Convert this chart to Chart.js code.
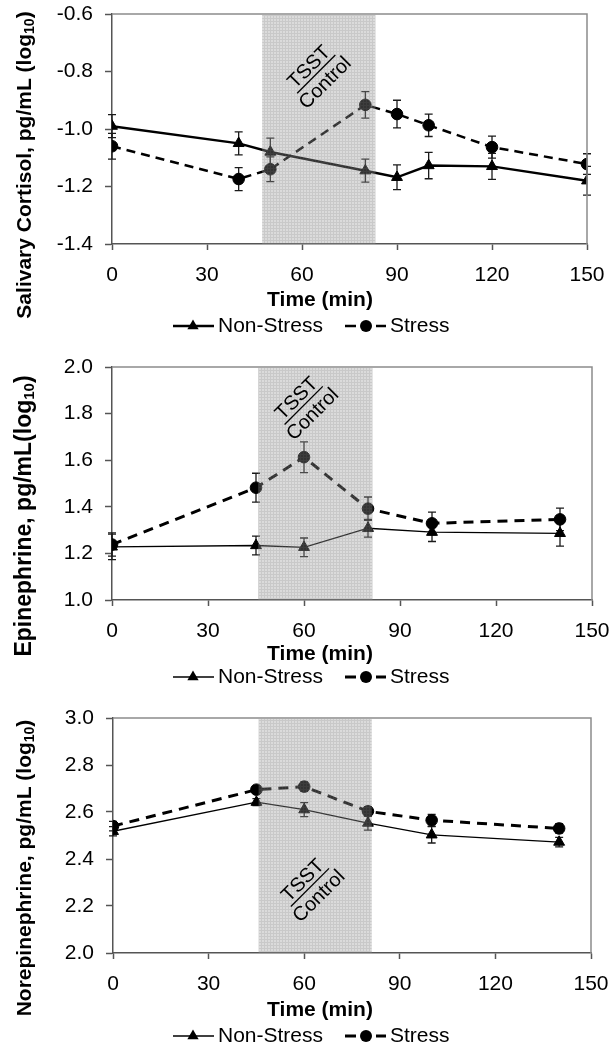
<!DOCTYPE html>
<html><head><meta charset="utf-8">
<script src="https://cdn.jsdelivr.net/npm/chart.js@4.4.0/dist/chart.umd.min.js"></script>
<style>
html,body{margin:0;padding:0;background:#fff;}
body{width:613px;height:1050px;position:relative;overflow:hidden;}
canvas{position:absolute;left:0;display:block;}
</style></head><body>
<canvas id="c1" width="613" height="340" style="top:0px"></canvas>
<canvas id="c2" width="613" height="350" style="top:340px"></canvas>
<canvas id="c3" width="613" height="360" style="top:690px"></canvas>
<script>
// ---------- DATA ----------
const seriesNames = ['Non-Stress', 'Stress'];
const xTickValues = [0, 30, 60, 90, 120, 150];

// Panel 1: salivary cortisol
const cortisolTimes = [0, 40, 50, 80, 90, 100, 120, 150];
const cortisolNonStress = [-0.99, -1.05, -1.08, -1.145, -1.168, -1.127, -1.13, -1.18];
const cortisolNonStressErr = [0.04, 0.04, 0.048, 0.04, 0.043, 0.046, 0.045, 0.05];
const cortisolStress = [-1.06, -1.174, -1.14, -0.916, -0.948, -0.987, -1.063, -1.122];
const cortisolStressErr = [0.045, 0.04, 0.043, 0.046, 0.048, 0.039, 0.038, 0.036];
const cortisolTicks = [-1.4, -1.2, -1.0, -0.8, -0.6];

// Panel 2: epinephrine
const epiTimes = [0, 45, 60, 80, 100, 140];
const epiNonStress = [1.228, 1.234, 1.226, 1.308, 1.291, 1.286];
const epiNonStressErr = [0.055, 0.04, 0.04, 0.038, 0.04, 0.055];
const epiStress = [1.238, 1.482, 1.613, 1.392, 1.329, 1.346];
const epiStressErr = [0.05, 0.062, 0.066, 0.05, 0.048, 0.048];
const epiTicks = [1.0, 1.2, 1.4, 1.6, 1.8, 2.0];

// Panel 3: norepinephrine
const neTimes = [0, 45, 60, 80, 100, 140];
const neNonStress = [2.518, 2.642, 2.61, 2.553, 2.503, 2.472];
const neNonStressErr = [0.02, 0.015, 0.03, 0.03, 0.035, 0.02];
const neStress = [2.54, 2.695, 2.708, 2.603, 2.565, 2.53];
const neStressErr = [0.02, 0.015, 0.02, 0.02, 0.025, 0.02];
const neTicks = [2.0, 2.2, 2.4, 2.6, 2.8, 3.0];

// TSST / Control period (min)
const cortisolBand = [47.4, 83.2];
const epiBand = [45.7, 81.4];
const neBand = [45.7, 81.2];

// ---------- DRAWING ----------
const FONT = "'Liberation Sans', Arial, Helvetica, sans-serif";
Chart.defaults.font.family = FONT;

function makePattern(ctx) {
  const c = document.createElement('canvas');
  c.width = 3; c.height = 3;
  const g = c.getContext('2d');
  g.fillStyle = 'rgba(150,150,150,0.34)';
  g.fillRect(0, 0, 3, 3);
  g.fillStyle = 'rgba(110,110,110,0.17)';
  g.fillRect(0, 0, 3, 1);
  g.fillRect(0, 1, 1, 2);
  return ctx.createPattern(c, 'repeat');
}

function tri(ctx, x, y, r) {
  ctx.beginPath();
  ctx.moveTo(x, y - r);
  ctx.lineTo(x + r * 0.866, y + r * 0.5);
  ctx.lineTo(x - r * 0.866, y + r * 0.5);
  ctx.closePath();
  ctx.fill();
}

const decor = {
  id: 'decor',
  beforeDatasetsDraw(chart) {
    const { ctx, scales: { x, y } } = chart;
    ctx.save();
    ctx.strokeStyle = '#1a1a1a';
    ctx.lineWidth = 1.3;
    ctx.setLineDash([]);
    chart.data.datasets.forEach(ds => {
      ds.data.forEach((p, j) => {
        const e = ds.errors[j];
        const px = x.getPixelForValue(p.x);
        const t = y.getPixelForValue(p.y + e);
        const b = y.getPixelForValue(p.y - e);
        ctx.beginPath();
        ctx.moveTo(px, t); ctx.lineTo(px, b);
        ctx.moveTo(px - 4, t); ctx.lineTo(px + 4, t);
        ctx.moveTo(px - 4, b); ctx.lineTo(px + 4, b);
        ctx.stroke();
      });
    });
    ctx.restore();
  },
  afterDatasetsDraw(chart) {
    const o = chart.options.plugins.decor;
    const { ctx, chartArea: a, scales: { x, y } } = chart;
    ctx.save();
    const xl = x.getPixelForValue(o.band[0]);
    const xr = x.getPixelForValue(o.band[1]);
    ctx.fillStyle = makePattern(ctx);
    ctx.fillRect(xl, a.top + 1, xr - xl, a.bottom - a.top - 1);
    // frame top/right
    ctx.strokeStyle = '#8c8c8c';
    ctx.lineWidth = 1.5;
    ctx.beginPath();
    ctx.moveTo(a.left, a.top); ctx.lineTo(a.right, a.top); ctx.lineTo(a.right, a.bottom);
    ctx.stroke();
    // TSST / Control annotation
    const nx = x.getPixelForValue(o.note[0]);
    const ny = y.getPixelForValue(o.note[1]);
    ctx.translate(nx, ny);
    ctx.rotate(-Math.PI / 4);
    ctx.fillStyle = '#000';
    ctx.strokeStyle = '#000';
    ctx.lineWidth = 1.3;
    ctx.font = '20px ' + FONT;
    ctx.textAlign = 'center';
    ctx.textBaseline = 'alphabetic';
    ctx.fillText('TSST', 0, -4);
    ctx.beginPath(); ctx.moveTo(-27, 0); ctx.lineTo(27, 0); ctx.stroke();
    ctx.textBaseline = 'top';
    ctx.fillText('Control', 0, 3);
    ctx.restore();
  },
  afterDraw(chart) {
    const o = chart.options.plugins.decor;
    const ctx = chart.ctx;
    ctx.save();
    ctx.fillStyle = '#000';
    // x title
    ctx.font = 'bold 21px ' + FONT;
    ctx.textAlign = 'center';
    ctx.textBaseline = 'middle';
    ctx.fillText('Time (min)', 320, o.xTitleY);
    // y title with subscript
    ctx.save();
    ctx.translate(25, o.yTitleCY);
    ctx.rotate(-Math.PI / 2);
    const fs = o.yTitleSize;
    const mainF = 'bold ' + fs + 'px ' + FONT, subF = 'bold ' + Math.round(fs * 0.67) + 'px ' + FONT;
    ctx.font = mainF; const w1 = ctx.measureText(o.yTitle[0]).width; const w3 = ctx.measureText(o.yTitle[2]).width;
    ctx.font = subF; const w2 = ctx.measureText(o.yTitle[1]).width;
    let sx = -(w1 + w2 + w3) / 2;
    ctx.textAlign = 'left';
    ctx.textBaseline = 'middle';
    ctx.font = mainF; ctx.fillText(o.yTitle[0], sx, 0);
    ctx.font = subF; ctx.fillText(o.yTitle[1], sx + w1, 5);
    ctx.font = mainF; ctx.fillText(o.yTitle[2], sx + w1 + w2, 0);
    ctx.restore();
    // legend
    const ly = o.legendY;
    ctx.strokeStyle = '#000';
    ctx.lineWidth = o.nsW;
    ctx.beginPath(); ctx.moveTo(173, ly); ctx.lineTo(214, ly); ctx.stroke();
    tri(ctx, 193, ly, 6.5);
    ctx.lineWidth = o.sW;
    ctx.beginPath(); ctx.moveTo(345, ly); ctx.lineTo(356, ly); ctx.moveTo(376, ly); ctx.lineTo(386, ly); ctx.stroke();
    ctx.beginPath(); ctx.arc(366, ly, 6, 0, Math.PI * 2); ctx.fill();
    ctx.font = '21px ' + FONT;
    ctx.textAlign = 'left';
    ctx.textBaseline = 'middle';
    ctx.fillText(seriesNames[0], 218, ly);
    ctx.fillText(seriesNames[1], 390, ly);
    ctx.restore();
  }
};

function buildChart(id, c) {
  const mk = (vals) => c.times.map((t, i) => ({ x: t, y: vals[i] }));
  return new Chart(document.getElementById(id), {
    type: 'line',
    data: {
      datasets: [
        { label: seriesNames[0], data: mk(c.ns), errors: c.nsErr, borderColor: '#000', borderWidth: c.nsW,
          pointStyle: 'triangle', pointRadius: 6.3, pointBackgroundColor: '#000', pointBorderColor: '#000',
          pointBorderWidth: 1, tension: 0, fill: false },
        { label: seriesNames[1], data: mk(c.s), errors: c.sErr, borderColor: '#000', borderWidth: c.sW,
          borderDash: c.dash, pointStyle: 'circle', pointRadius: 5.8, pointBackgroundColor: '#000',
          pointBorderColor: '#000', pointBorderWidth: 1, tension: 0, fill: false }
      ]
    },
    options: {
      responsive: false, animation: false, events: [],
      layout: { padding: { top: c.padTop, right: c.padRight, bottom: c.padBottom, left: 0 } },
      plugins: {
        legend: { display: false }, tooltip: { enabled: false },
        decor: { band: c.band, note: c.note, xTitleY: c.xTitleY, yTitleCY: c.yTitleCY, yTitle: c.yTitle,
                 yTitleSize: c.yTitleSize, legendY: c.legendY, nsW: c.nsW, sW: c.sW }
      },
      scales: {
        x: {
          type: 'linear', min: 0, max: 150, offset: false,
          afterBuildTicks: s => { s.ticks = xTickValues.map(v => ({ value: v })); },
          ticks: { font: { size: 21 }, color: '#000', padding: 13, maxRotation: 0, autoSkip: false,
                   callback: v => String(v) },
          grid: { drawOnChartArea: false, drawTicks: true, tickLength: 6, tickColor: '#555', tickWidth: 1.5 },
          border: { color: '#555', width: 1.5 },
          afterFit: s => { s.height = 44; s.paddingLeft = 0; s.paddingRight = 0; }
        },
        y: {
          type: 'linear', min: c.yTicks[0], max: c.yTicks[c.yTicks.length - 1],
          afterBuildTicks: s => { s.ticks = c.yTicks.map(v => ({ value: v })); },
          ticks: { font: { size: 21 }, color: '#000', padding: 12, callback: v => Number(v).toFixed(1) },
          grid: { drawOnChartArea: false, drawTicks: true, tickLength: 7, tickColor: '#555', tickWidth: 1.5 },
          border: { color: '#555', width: 1.5 },
          afterFit: s => { s.width = c.yWidth; s.paddingTop = 0; s.paddingBottom = 0; }
        }
      }
    },
    plugins: [decor]
  });
}

buildChart('c1', {
  times: cortisolTimes, ns: cortisolNonStress, nsErr: cortisolNonStressErr, s: cortisolStress, sErr: cortisolStressErr,
  yTicks: cortisolTicks, band: cortisolBand, note: [64.5, -0.809],
  nsW: 2.5, sW: 2.5, dash: [9, 6],
  padTop: 14, padRight: 26, padBottom: 52, yWidth: 112,
  xTitleY: 300, yTitleCY: 165, legendY: 326, yTitleSize: 21,
  yTitle: ['Salivary Cortisol, pg/mL (log', '10', ')']
});
buildChart('c2', {
  times: epiTimes, ns: epiNonStress, nsErr: epiNonStressErr, s: epiStress, sErr: epiStressErr,
  yTicks: epiTicks, band: epiBand, note: [59.9, 1.835],
  nsW: 1.3, sW: 3, dash: [10, 7],
  padTop: 27, padRight: 21, padBottom: 46, yWidth: 112,
  xTitleY: 314, yTitleCY: 176, legendY: 337, yTitleSize: 23,
  yTitle: ['Epinephrine, pg/mL(log', '10', ')']
});
buildChart('c3', {
  times: neTimes, ns: neNonStress, nsErr: neNonStressErr, s: neStress, sErr: neStressErr,
  yTicks: neTicks, band: neBand, note: [61.8, 2.279],
  nsW: 1.3, sW: 3, dash: [10, 7],
  padTop: 28, padRight: 22, padBottom: 53, yWidth: 113,
  xTitleY: 320, yTitleCY: 178, legendY: 346, yTitleSize: 21,
  yTitle: ['Norepinephrine, pg/mL (log', '10', ')']
});
</script>
</body></html>
